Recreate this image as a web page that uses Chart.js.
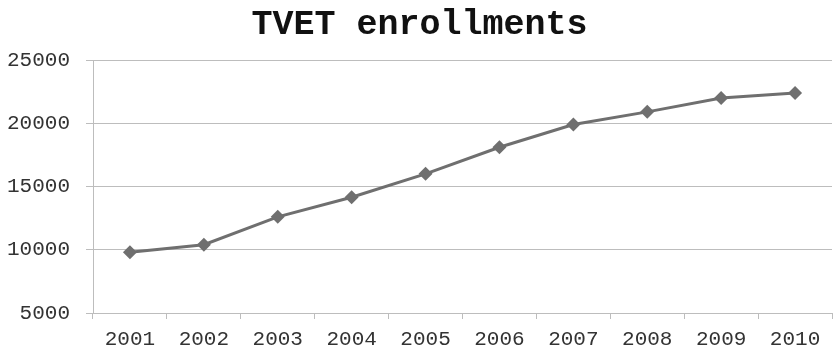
<!DOCTYPE html>
<html>
<head>
<meta charset="utf-8">
<title>TVET enrollments</title>
<script src="https://cdn.jsdelivr.net/npm/chart.js@4/dist/chart.umd.min.js"></script>
<style>
  html, body { margin: 0; padding: 0; background: #fff; }
  #wrap { width: 839px; height: 352px; }
</style>
</head>
<body>
<div id="wrap"><canvas id="tvet" width="839" height="352"></canvas></div>
<script>
// enrollment counts per year
const years = ['2001', '2002', '2003', '2004', '2005', '2006', '2007', '2008', '2009', '2010'];
const enrollments = [9800, 10400, 12600, 14150, 16000, 18100, 19900, 20900, 22000, 22400];
const yTicks = [5000, 10000, 15000, 20000, 25000];

const lineGrey = '#6f6f6f';
const gridGrey = '#bdbdbd';
const tickFont = { family: 'Liberation Mono', size: 21 };

var ctx = document.getElementById('tvet').getContext('2d');
var chart = new Chart(ctx, {
    type: 'line',
    data: {
        labels: years,
        datasets: [{
            label: 'TVET enrollments',
            data: enrollments,
            borderColor: lineGrey,
            backgroundColor: lineGrey,
            borderWidth: 3,
            pointStyle: 'rectRot',
            pointRadius: 7,
            pointBorderWidth: 0,
            pointBackgroundColor: lineGrey,
            tension: 0
        }]
    },
    options: {
        responsive: false,
        animation: false,
        layout: { padding: 0 },
        plugins: {
            legend: { display: false },
            tooltip: { enabled: false },
            title: {
                display: true,
                text: 'TVET enrollments',
                color: '#111',
                font: { family: 'Liberation Mono', size: 35, weight: 'bold' },
                padding: { top: 4, bottom: 14 }
            }
        },
        scales: {
            x: {
                offset: true,
                grid: {
                    offset: true,
                    drawOnChartArea: false,
                    drawTicks: true,
                    tickLength: 6,
                    color: gridGrey
                },
                border: { color: gridGrey },
                ticks: { color: '#333', font: tickFont, padding: 8, maxRotation: 0 },
                afterFit: (s) => { s.height = 39; }
            },
            y: {
                min: 5000,
                max: 25000,
                afterBuildTicks: (s) => { s.ticks = yTicks.map(v => ({ value: v })); },
                grid: {
                    color: gridGrey,
                    tickLength: 7
                },
                border: { color: gridGrey },
                ticks: {
                    color: '#333',
                    font: tickFont,
                    padding: 16,
                    callback: (v) => String(v)
                },
                afterFit: (s) => { s.width = 93; }
            }
        }
    }
});
</script>
</body>
</html>
